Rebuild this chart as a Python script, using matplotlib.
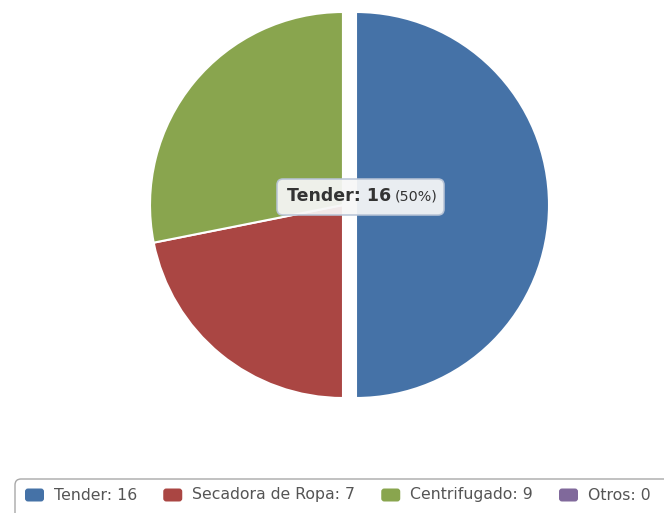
import matplotlib
matplotlib.use("Agg")
import matplotlib.pyplot as plt
from matplotlib.patches import FancyBboxPatch

categories = ["Tender", "Secadora de Ropa", "Centrifugado", "Otros"]
values = [16, 7, 9, 0]
colors = ["#4572A7", "#AA4643", "#89A54E", "#80699B"]

W, H = 664, 513
fig = plt.figure(figsize=(W / 100, H / 100), dpi=100)
ax = fig.add_axes([0, 0, 1, 1])

# pie in pixel-like coordinates (y measured upward)
cx, cy, r = 343, H - 205, 193
explode = [13 if i == 0 else 0 for i in range(len(values))]
wedges, _ = ax.pie(values, colors=colors, startangle=90, counterclock=False,
                   center=(cx, cy), radius=r, explode=explode,
                   wedgeprops=dict(edgecolor="white", linewidth=1.5))
ax.set_xlim(0, W)
ax.set_ylim(0, H)
ax.set_aspect("equal")
ax.axis("off")

# tooltip for the first slice
total = sum(values)
pct = values[0] / total * 100
tip = FancyBboxPatch((277, H - 215), 167, 36,
                     boxstyle="round,pad=0,rounding_size=6",
                     facecolor="#f7f7f7", edgecolor="#b8c4d6", linewidth=1.2,
                     alpha=0.93, zorder=5)
ax.add_patch(tip)
ty = H - 196
t1 = ax.text(287, ty, f"{categories[0]}: {values[0]}", fontsize=12.5,
             fontweight="bold", color="#333333", va="center", ha="left", zorder=6)
fig.canvas.draw()
bb = t1.get_window_extent()
ax.text(bb.x1 + 4, ty, f"({pct:.0f}%)", fontsize=10.3, color="#333333",
        va="center", ha="left", zorder=6)

# legend row
leg = FancyBboxPatch((15, H - 520), 720, 41,
                     boxstyle="round,pad=0,rounding_size=6",
                     facecolor="white", edgecolor="#a8a8a8", linewidth=1.0,
                     zorder=5, clip_on=False)
ax.add_patch(leg)
x = 25
ly = H - 495
for cat, val, col in zip(categories, values, colors):
    ax.add_patch(FancyBboxPatch((x, ly - 6.5), 19, 13,
                                boxstyle="round,pad=0,rounding_size=3",
                                facecolor=col, edgecolor="none", zorder=6))
    t = ax.text(x + 29, ly, f"{cat}: {val}", fontsize=11.3, color="#555555",
                va="center", ha="left", zorder=6)
    fig.canvas.draw()
    x = t.get_window_extent().x1 + 26

fig.savefig("out.png", dpi=100, facecolor="white")
